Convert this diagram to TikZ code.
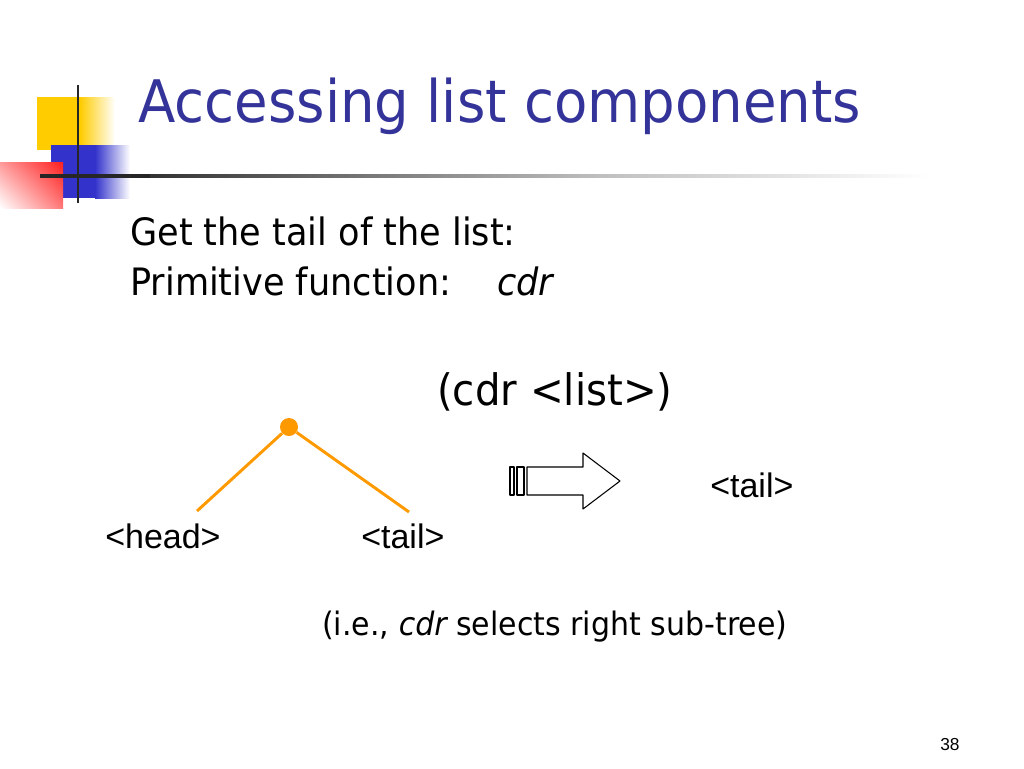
\documentclass[tikz,border=0pt]{standalone}
\usepackage{fontspec}
\setmainfont{Liberation Sans}
\newfontfamily\tahomalike{DejaVu Sans}[FakeStretch=0.93]
\usetikzlibrary{calc,shadings}
\definecolor{titleblue}{RGB}{51,51,153}
\definecolor{treeorange}{RGB}{255,153,0}
\definecolor{decoyellow}{RGB}{255,204,0}
\definecolor{decoblue}{RGB}{51,51,204}
\definecolor{decored}{RGB}{255,30,30}
\tikzset{
  body/.style={anchor=base west, inner sep=0pt, font=\tahomalike\fontsize{28.3}{33}\selectfont},
  label/.style={anchor=base west, inner sep=0pt, font=\fontsize{25.5}{30}\selectfont},
  branch/.style={treeorange, line width=2.2pt}
}
\begin{document}
\begin{tikzpicture}[x=0.75pt, y=-0.75pt, line join=round]
  \useasboundingbox (0,0) rectangle (1024,768);
  % decoration
  \fill[decoyellow] (37,97) rectangle (80,150);
  \shade[left color=decoyellow, right color=white] (80,97) rectangle (115,150);
  \fill[decoblue] (51,145) rectangle (95,198);
  \shade[left color=decoblue, right color=white] (95,145) rectangle (130,198);
  \shade[upper right=decored, upper left=decored!45, lower right=decored!60, lower left=white] (0,162) rectangle (63,208);
  \draw[black!85, line width=2.2pt] (78,85) -- (78,203);
  \draw[black!85, line width=2.6pt] (40,176) -- (150,176);
  \shade[left color=black!80, right color=black!25] (150,174.7) rectangle (600,177.3);
  \shade[left color=black!25, right color=white] (600,174.7) rectangle (930,177.3);
  % title
  \node[anchor=base west, inner sep=0pt, titleblue, font=\tahomalike\fontsize{44}{50}\selectfont] (title) at (138,122) {Accessing list components};
  % body text
  \node[body] (line1) at (130,245) {Get the tail of the list:};
  \node[body] (line2) at (130,295) {Primitive function:};
  \node[body, font=\tahomalike\fontsize{28.3}{33}\selectfont\itshape] (prim) at (497,295) {cdr};
  \node[body, font=\tahomalike\fontsize{32.5}{38}\selectfont] (expr) at (437,405) {(cdr <list>)};
  % tree
  \node[circle, fill=treeorange, inner sep=0pt, minimum size=13.5pt] (root) at (289,427) {};
  \coordinate (lleaf) at (197,511);
  \coordinate (rleaf) at (409,512);
  \draw[branch] (root) -- (lleaf);
  \draw[branch] (root) -- (rleaf);
  \node[label] (head) at (105,548) {<head>};
  \node[label] (tail) at (361,548) {<tail>};
  % arrow
  \draw[line width=0.8pt] (510,467) rectangle (514,495);
  \draw[line width=0.8pt] (517,467) rectangle (524,495);
  \draw[line width=0.8pt] (527,467) -- (583,467) -- (583,453) -- (620,481) -- (583,509) -- (583,495) -- (527,495) -- cycle;
  \node[label] (result) at (710,497) {<tail>};
  \node[body, font=\tahomalike\fontsize{24.2}{29}\selectfont] (note) at (322,635) {(i.e., {\itshape cdr} selects right sub-tree)};
  \node[anchor=base west, inner sep=0pt, font=\fontsize{13}{15}\selectfont] (page) at (940,750) {38};
\end{tikzpicture}
\end{document}
